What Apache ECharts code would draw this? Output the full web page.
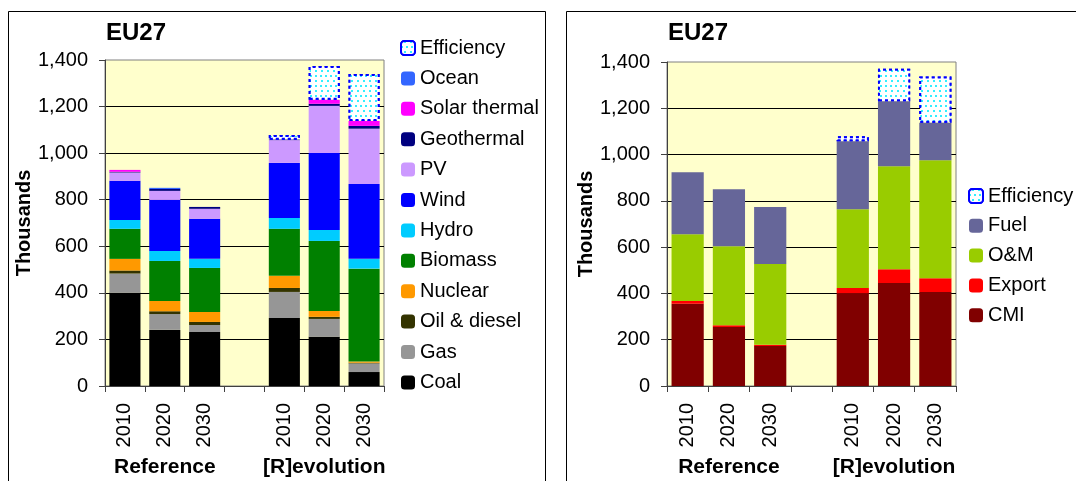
<!DOCTYPE html>
<html><head><meta charset="utf-8">
<script src="https://cdn.jsdelivr.net/npm/echarts@6/dist/echarts.min.js"></script>
<style>html,body{margin:0;padding:0;background:#fff}#c{width:1076px;height:481px}</style>
</head><body><div id="c"></div>
<script>
// categories: Reference 2010/2020/2030, gap, [R]evolution 2010/2020/2030
const years = ['2010', '2020', '2030', '', '2010', '2020', '2030'];
const groups = ['', 'Reference', '', '', '', '[R]evolution', ''];
const yTicks = [0, 200, 400, 600, 800, 1000, 1200, 1400];

// Left chart: jobs by technology (thousands), 6 bars (3 Ref + 3 Rev)
const coal       = [400, 241, 232, 292, 211, 60];
const gas        = [83, 68, 30, 112, 77, 37];
const oil        = [13, 12, 13, 17, 9, 3];
const nuclear    = [50, 44, 43, 52, 25, 5];
const biomass    = [129, 172, 189, 202, 301, 399];
const hydro      = [38, 43, 39, 47, 47, 42];
const wind       = [168, 219, 172, 236, 331, 322];
const pv         = [36, 39, 43, 98, 202, 237];
const geothermal = [3, 8, 8, 2, 9, 12];
const solarTh    = [8, 0, 0, 0, 17, 21];
const ocean      = [0, 5, 0, 0, 0, 0];
const effLeft    = [null, null, null, 20, 145, 202];

// Right chart: jobs by type (thousands)
const cmi        = [355, 255, 173, 401, 445, 406];
const exportJ    = [12, 8, 5, 22, 60, 60];
const om         = [289, 341, 349, 341, 445, 510];
const fuel       = [268, 246, 246, 294, 280, 162];
const effRight   = [null, null, null, 21, 141, 199];

const withGap = a => [a[0], a[1], a[2], null, a[3], a[4], a[5]];

const FONT = 'Liberation Sans, Arial, sans-serif';
const effStyle = {
  color: '#FFFFFF',
  borderColor: '#0000FF', borderWidth: 2, borderType: [3, 3],
  decal: { symbol: 'rect', symbolSize: 1, color: '#33EEFF', backgroundColor: '#FFFFFF',
           dashArrayX: [[2, 3], [0, 2.5, 2, 0.5]], dashArrayY: [2, 2.5], rotation: 0 }
};

function bar(name, data, color, xi, yi, stack) {
  return { type: 'bar', name, data: withGap(data), stack, xAxisIndex: xi, yAxisIndex: yi,
           barCategoryGap: '22%', itemStyle: { color }, emphasis: { disabled: true } };
}
function effBar(data, xi, yi, stack) {
  return { type: 'bar', name: 'Efficiency', data: withGap(data), stack, xAxisIndex: xi, yAxisIndex: yi,
           barCategoryGap: '22%', itemStyle: effStyle, emphasis: { disabled: true } };
}

function yearAxis(gi) {
  return { type: 'category', gridIndex: gi, data: years, position: 'bottom',
    axisLine: { lineStyle: { color: '#404040', width: 1 } },
    axisTick: { show: true, interval: 0, length: 6, lineStyle: { color: '#404040' } },
    axisLabel: { interval: 0, rotate: 90, margin: 17, color: '#000', fontSize: 20, fontFamily: FONT },
    splitLine: { show: false } };
}
function groupAxis(gi) {
  return { type: 'category', gridIndex: gi, data: groups, position: 'bottom',
    axisLine: { show: false }, axisTick: { show: false },
    axisLabel: { interval: 0, margin: 71, color: '#000', fontSize: 21, fontWeight: 'bold', fontFamily: FONT },
    splitLine: { show: false } };
}
function valAxis(gi) {
  return { type: 'value', gridIndex: gi, min: yTicks[0], max: yTicks[yTicks.length - 1], interval: 200,
    name: 'Thousands', nameLocation: 'middle', nameGap: 69,
    nameTextStyle: { color: '#000', fontSize: 20, fontWeight: 'bold', fontFamily: FONT },
    axisLine: { show: true, lineStyle: { color: '#404040', width: 1 } },
    axisTick: { show: true, length: 6, lineStyle: { color: '#404040' } },
    axisLabel: { margin: 17, color: '#000', fontSize: 20, fontFamily: FONT },
    splitLine: { show: true, showMaxLine: false, showMinLine: false, lineStyle: { color: '#000', width: 1 } } };
}

const chart = echarts.init(document.getElementById('c'), null, { renderer: 'canvas' });
chart.setOption({
  animation: false,
  backgroundColor: '#FFFFFF',
  textStyle: { fontFamily: FONT },
  title: [
    { text: 'EU27', left: 106, top: 21, padding: 0, textStyle: { fontSize: 24, fontWeight: 'bold', color: '#000', fontFamily: FONT } },
    { text: 'EU27', left: 668, top: 21, padding: 0, textStyle: { fontSize: 24, fontWeight: 'bold', color: '#000', fontFamily: FONT } }
  ],
  graphic: [
    { type: 'rect', shape: { x: 8.5, y: 11.5, width: 537, height: 490 }, style: { fill: 'none', stroke: '#000', lineWidth: 1 }, z: 100 },
    { type: 'rect', shape: { x: 566.5, y: 11.5, width: 530, height: 490 }, style: { fill: 'none', stroke: '#000', lineWidth: 1 }, z: 100 }
  ],
  grid: [
    { left: 105, right: 692, top: 60, bottom: 95, show: true, backgroundColor: '#FFFFCC', borderColor: '#808080', borderWidth: 1 },
    { left: 667, right: 120, top: 62, bottom: 95, show: true, backgroundColor: '#FFFFCC', borderColor: '#808080', borderWidth: 1 }
  ],
  legend: [
    { orient: 'vertical', left: 395, top: 33, itemWidth: 14, itemHeight: 14, itemGap: 10.4,
      textStyle: { fontSize: 20, color: '#000', fontFamily: FONT },
      data: ['Efficiency', 'Ocean', 'Solar thermal', 'Geothermal', 'PV', 'Wind', 'Hydro', 'Biomass', 'Nuclear', 'Oil & diesel', 'Gas', 'Coal'],
      selectedMode: false },
    { orient: 'vertical', left: 963, top: 181, itemWidth: 14, itemHeight: 14, itemGap: 9.8,
      textStyle: { fontSize: 20, color: '#000', fontFamily: FONT },
      data: ['Efficiency', 'Fuel', 'O&M', 'Export', 'CMI'],
      selectedMode: false }
  ],
  xAxis: [yearAxis(0), groupAxis(0), yearAxis(1), groupAxis(1)],
  yAxis: [valAxis(0), valAxis(1)],
  series: [
    bar('Coal', coal, '#000000', 0, 0, 'L'),
    bar('Gas', gas, '#969696', 0, 0, 'L'),
    bar('Oil & diesel', oil, '#333300', 0, 0, 'L'),
    bar('Nuclear', nuclear, '#FF9900', 0, 0, 'L'),
    bar('Biomass', biomass, '#008000', 0, 0, 'L'),
    bar('Hydro', hydro, '#00CCFF', 0, 0, 'L'),
    bar('Wind', wind, '#0000FF', 0, 0, 'L'),
    bar('PV', pv, '#CC99FF', 0, 0, 'L'),
    bar('Geothermal', geothermal, '#000080', 0, 0, 'L'),
    bar('Solar thermal', solarTh, '#FF00FF', 0, 0, 'L'),
    bar('Ocean', ocean, '#3366FF', 0, 0, 'L'),
    effBar(effLeft, 0, 0, 'L'),
    bar('CMI', cmi, '#800000', 2, 1, 'R'),
    bar('Export', exportJ, '#FF0000', 2, 1, 'R'),
    bar('O&M', om, '#99CC00', 2, 1, 'R'),
    bar('Fuel', fuel, '#666699', 2, 1, 'R'),
    effBar(effRight, 2, 1, 'R')
  ]
});
</script></body></html>
